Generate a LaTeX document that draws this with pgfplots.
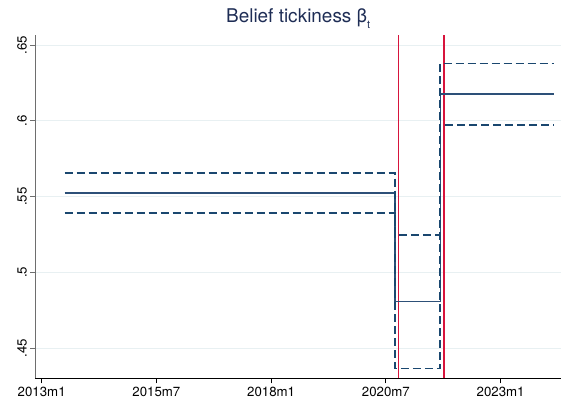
\documentclass[border=0pt]{standalone}
\usepackage{fontspec}
\setmainfont{TeX Gyre Heros}
\usepackage{pgfplots}
\pgfplotsset{compat=1.18}
\definecolor{stnavy}{RGB}{26,71,111}
\definecolor{stline}{RGB}{45,80,120}
\definecolor{redline}{RGB}{215,20,60}
\definecolor{gridc}{RGB}{232,240,242}
\definecolor{titlec}{RGB}{30,45,85}
\definecolor{yax}{RGB}{110,110,110}
\begin{document}
\begin{tikzpicture}
\begin{axis}[name=ax, scale only axis, width=525.7bp, height=343.3bp,
  xmin=-1.67, xmax=135.8, ymin=0.4302, ymax=0.6566,
  axis x line*=bottom, axis y line*=left,
  x axis line style={black,-,line width=0.8bp},
  y axis line style={yax,-,line width=0.8bp},
  xtick={0,30,60,90,120},
  xticklabels={2013m1,2015m7,2018m1,2020m7,2023m1},
  ytick={0.45,0.5,0.55,0.6,0.65},
  yticklabels={.45,.5,.55,.6,.65},
  /pgf/number format/assume math mode=true,
  tick align=outside, major tick length=5bp,
  x tick style={black,line width=0.8bp},
  y tick style={yax,line width=0.8bp},
  ymajorgrids, grid style={gridc,line width=0.8bp},
  tick label style={font=\fontsize{13.3}{14}\selectfont},
  yticklabel style={rotate=90,anchor=south},
  title={Belief tickiness β\raisebox{-6bp}{\fontsize{11}{11}\selectfont t}},
  title style={at={(0.5,1)},anchor=base,yshift=7bp,inner sep=0pt,
    font=\fontsize{19}{20}\selectfont,text=titlec},
  unbounded coords=jump,
]
% event lines
\addplot[draw=redline,solid,line width=1.5bp] coordinates {
  (93.3,0.4302) (93.3,0.6566) (99,nan) (105.2,0.4302) (105.2,0.6566)};
% point estimate
\addplot[const plot,color=stline,solid,line width=1.2bp] coordinates {
  (6,0.5524) (92.4,0.4806) (104.2,0.6177) (134,0.6177)};
% upper bound
\addplot[const plot,color=stnavy,line width=1.6bp,dash pattern=on 8bp off 4bp] coordinates {
  (6,0.5656) (92.4,0.5249) (104.2,0.6379) (134,0.6379)};
% lower bound
\addplot[const plot,color=stnavy,line width=1.6bp,dash pattern=on 8bp off 4bp] coordinates {
  (6,0.5393) (92.4,0.4366) (104.2,0.5974) (134,0.5974)};
\end{axis}
\pgfresetboundingbox
\path[use as bounding box] ([shift={(-35.3bp,-24.7bp)}]ax.south west) rectangle ([shift={(1bp,35bp)}]ax.north east);
\end{tikzpicture}
\end{document}
